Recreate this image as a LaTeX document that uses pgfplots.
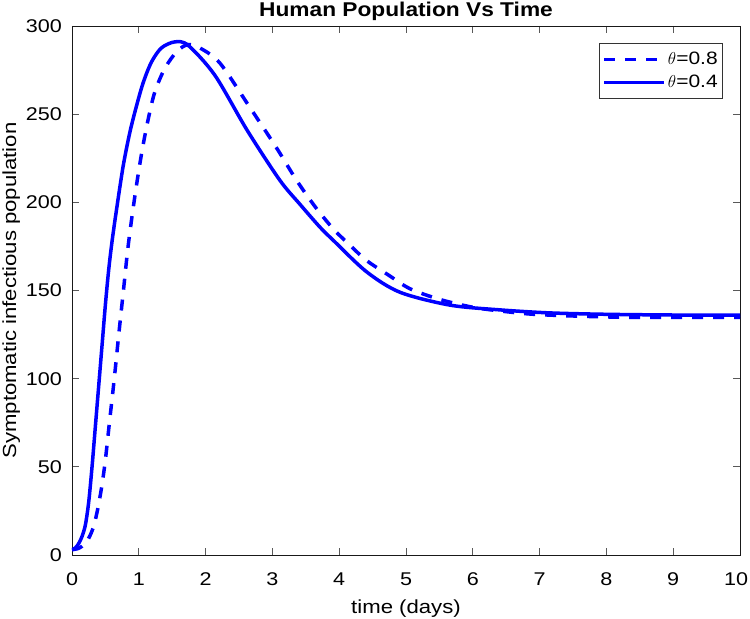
\documentclass[border=0pt]{standalone}
\usepackage{fontspec}
\setmainfont{Liberation Sans}[FakeStretch=1.17]
\newfontfamily\titlefont{Liberation Sans}[FakeStretch=1.14]
\usepackage{pgfplots}
\pgfplotsset{compat=1.18}
\begin{document}
\begin{tikzpicture}
\begin{axis}[
  scale only axis, width=668bp, height=529bp,
  xmin=0, xmax=10, ymin=0, ymax=300,
  xtick={0,1,...,10}, ytick={0,50,...,300},
  xticklabels={0,1,2,3,4,5,6,7,8,9,{\hspace*{-8bp}10}},
  tick align=inside, major tick length=7bp,
  axis line style={black!90, line width=0.8bp},
  every tick/.style={black!65, line width=0.8bp},
  tick label style={font=\fontsize{18.5}{20}\selectfont, inner sep=0pt},
  /pgf/number format/assume math mode=true,
  xticklabel style={anchor=base, yshift=-30bp},
  yticklabel style={anchor=east, xshift=-10bp},
  xlabel={time (days)},
  ylabel={Symptomatic infectious population},
  label style={font=\fontsize{19}{21}\selectfont, inner sep=0pt, outer sep=0pt},
  xlabel style={at={(axis description cs:0.5,-0.1115)}, anchor=base},
  ylabel style={at={(axis description cs:-0.0838,0.5)}, anchor=base},
  title={Human Population Vs Time},
  title style={at={(axis description cs:0.5,1)}, anchor=base, yshift=4bp, font=\titlefont\bfseries\fontsize{20}{22}\selectfont, inner sep=0pt, outer sep=0pt},
  legend style={at={(1,1)}, anchor=north east, xshift=-17bp, yshift=-17bp, draw=black!80, line width=0.6bp, font=\fontsize{18}{20}\selectfont, inner xsep=3bp, inner ysep=7bp, row sep=5bp},
  legend cell align=left,
  legend image code/.code={\draw[#1] (0bp,0bp) -- (60bp,0bp);},
]
\addplot[blue, line width=3.5bp, dash pattern=on 11bp off 10bp, smooth, tension=0.5] coordinates {
(0,3) (0.1,3.8) (0.2,6.5) (0.27,11) (0.33,17) (0.39,27) (0.45,40) (0.5,54) (0.56,75)
(0.63,99) (0.7,125) (0.77,150) (0.843,176) (0.943,204) (1.043,228) (1.14,247)
(1.24,262.6) (1.39,276) (1.57,285.5) (1.74,289.5) (1.94,287) (2.22,278.7) (2.66,254)
(3.06,231) (3.36,212.6) (3.64,197.5) (3.91,185) (4.16,175.7) (4.41,167) (4.74,158.7)
(5.06,151) (5.5,145) (6,140.5) (6.5,138) (7,136.3) (8,135) (9,134.7) (10,134.8)
};
\addlegendentry{$\theta$=0.8}
\addplot[blue, line width=3.5bp, smooth, tension=0.5] coordinates {
(0,3) (0.05,4) (0.1,6.5) (0.15,10.5) (0.2,17) (0.25,30) (0.3,50) (0.35,73) (0.4,96)
(0.45,119) (0.5,142) (0.55,162) (0.6,178) (0.669,196.5) (0.768,221) (0.868,240)
(0.968,255) (1.067,268) (1.19,279.6) (1.34,287.6) (1.54,291) (1.74,289) (2.14,272)
(2.62,241) (3.11,212.6) (3.41,199) (3.71,186) (3.91,178.5) (4.41,160.6) (4.91,149)
(5.66,141.7) (6.41,139) (7.15,137.3) (8,136.5) (9,136.1) (10,136)
};
\addlegendentry{$\theta$=0.4}
\end{axis}
\pgfresetboundingbox
\path[use as bounding box] (-72bp,-64bp) rectangle (678bp,555bp);
\end{tikzpicture}
\end{document}
